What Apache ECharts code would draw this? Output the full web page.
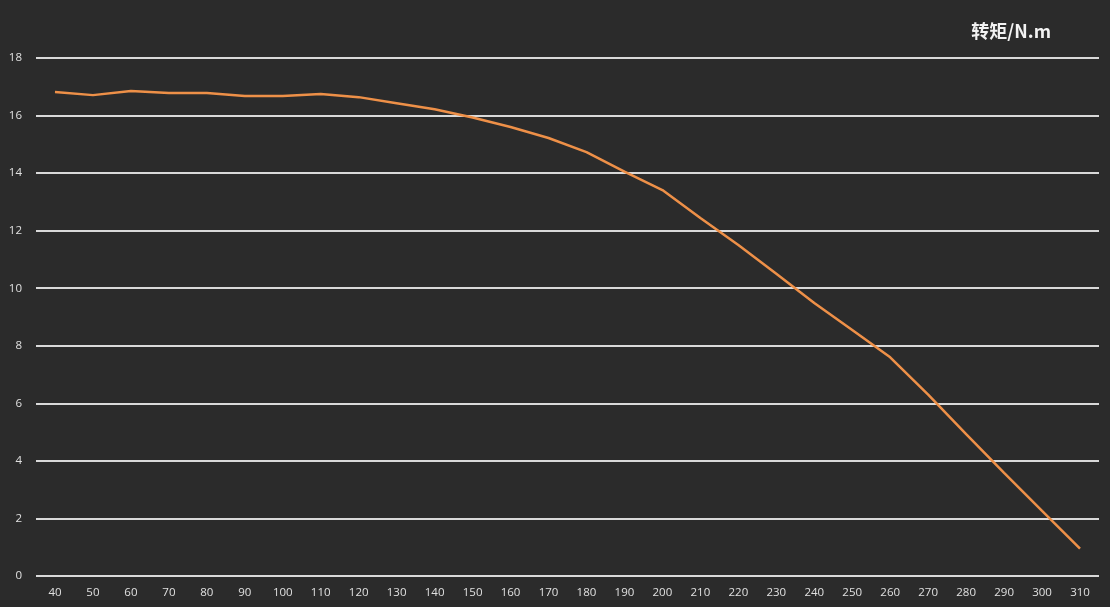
<!DOCTYPE html>
<html>
<head>
<meta charset="utf-8">
<script src="https://cdn.jsdelivr.net/npm/echarts@6/dist/echarts.min.js"></script>
<style>
	html, body { margin: 0; padding: 0; background: #2b2b2b; }
	#chart { width: 1110px; height: 607px; }
</style>
</head>
<body>
<div id="chart"></div>
<script>
	// 转速 / 转矩 数据
	const speed = [40, 50, 60, 70, 80, 90, 100, 110, 120, 130, 140, 150, 160, 170, 180, 190, 200, 210, 220, 230, 240, 250, 260, 270, 280, 290, 300, 310];
	const torque = [16.82, 16.71, 16.85, 16.78, 16.78, 16.68, 16.68, 16.75, 16.64, 16.43, 16.22, 15.93, 15.6, 15.22, 14.73, 14.05, 13.41, 12.44, 11.5, 10.5, 9.49, 8.55, 7.6, 6.3, 4.93, 3.58, 2.26, 0.95];

	const myChart = echarts.init(document.getElementById("chart"));

	const option = {
		backgroundColor: "#2b2b2b",
		title: {
			text: "转矩/N.m",
			right: 54,
			top: 17,
			textStyle: {
				color: "#f2f2f2",
				fontSize: 18,
				fontWeight: "bold",
				fontFamily: "Noto Sans CJK SC"
			}
		},
		grid: {
			top: 58,
			left: 36,
			right: 11,
			bottom: 31
		},
		xAxis: {
			type: "category",
			data: speed,
			boundaryGap: true,
			axisLine: { show: false },
			axisTick: { show: false },
			axisLabel: {
				color: "#e0e0e0",
				fontSize: 11.5,
				margin: 11,
				interval: 0,
				fontFamily: "Open Sans"
			}
		},
		yAxis: {
			type: "value",
			min: 0,
			max: 18,
			interval: 2,
			axisLine: { show: false },
			axisTick: { show: false },
			axisLabel: {
				color: "#e0e0e0",
				fontSize: 11.5,
				margin: 14,
				fontFamily: "Open Sans"
			},
			splitLine: {
				lineStyle: {
					color: "#d9d9d9",
					width: 2
				}
			}
		},
		series: [
			{
				name: "转矩",
				type: "line",
				data: torque,
				symbol: "none",
				smooth: false,
				lineStyle: {
					color: "#ee9048",
					width: 2.5
				}
			}
		]
	};

	myChart.setOption(option);
</script>
</body>
</html>
